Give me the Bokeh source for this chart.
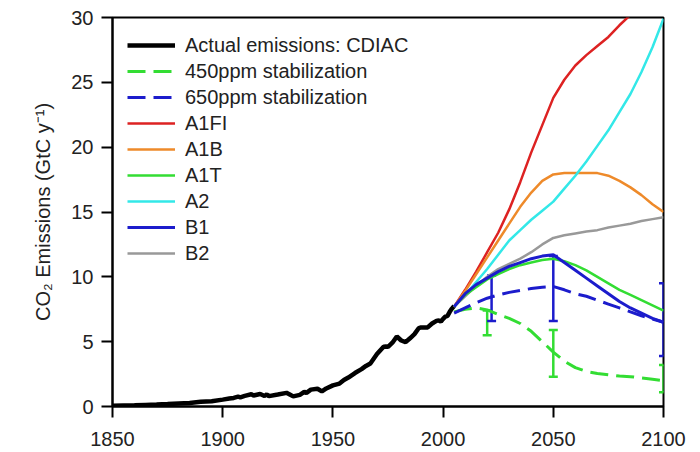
from bokeh.plotting import figure
from bokeh.models import ColumnDataSource, Whisker, TeeHead, Legend, LegendItem, FixedTicker
from bokeh.embed import file_html
from bokeh.resources import INLINE

# ---- Data ----
hist_years = [1850, 1855, 1860, 1865, 1870, 1875, 1880, 1885, 1890, 1895, 1900, 1903, 1905,
              1907, 1908, 1910, 1913, 1914, 1916, 1917, 1919, 1920, 1921, 1925, 1929, 1930,
              1932, 1935, 1937, 1938, 1940, 1943, 1945, 1947, 1950, 1953, 1955, 1957, 1960,
              1963, 1965, 1967, 1970, 1973, 1974, 1975, 1977, 1979, 1981, 1983, 1985, 1987,
              1989, 1990, 1992, 1993, 1995, 1997, 1998, 1999, 2000, 2001, 2002, 2003, 2004, 2005]
hist_values = [0.05, 0.07, 0.09, 0.12, 0.15, 0.19, 0.24, 0.27, 0.36, 0.40, 0.53, 0.61, 0.66,
               0.76, 0.71, 0.82, 0.94, 0.85, 0.93, 0.97, 0.81, 0.93, 0.80, 0.92, 1.05, 0.97,
               0.78, 0.90, 1.13, 1.05, 1.30, 1.37, 1.16, 1.39, 1.63, 1.77, 2.04, 2.23, 2.58,
               2.88, 3.13, 3.32, 4.05, 4.61, 4.62, 4.60, 4.92, 5.40, 5.09, 4.96, 5.26, 5.58,
               6.05, 6.10, 6.10, 6.10, 6.40, 6.60, 6.64, 6.55, 6.76, 6.93, 6.99, 7.30, 7.55, 7.75]

scen_years = [2005, 2010, 2015, 2020, 2025, 2030, 2035, 2040, 2045, 2050,
              2055, 2060, 2065, 2070, 2075, 2080, 2085, 2090, 2095, 2100]
a1fi = [7.7, 9.0, 10.4, 11.9, 13.4, 15.2, 17.3, 19.6, 21.7, 23.8,
        25.2, 26.3, 27.1, 27.8, 28.5, 29.4, 30.2, 31.0, 31.6, 32.2]
a1b = [7.7, 8.9, 10.2, 11.5, 12.8, 14.1, 15.4, 16.5, 17.4, 17.9,
       18.0, 18.0, 18.0, 18.0, 17.8, 17.4, 16.9, 16.3, 15.6, 15.0]
a1t = [7.7, 8.6, 9.2, 9.8, 10.2, 10.6, 10.9, 11.1, 11.3, 11.4,
       11.2, 10.9, 10.5, 10.0, 9.5, 9.0, 8.6, 8.2, 7.8, 7.4]
a2 = [7.7, 8.6, 9.6, 10.6, 11.7, 12.8, 13.6, 14.4, 15.1, 15.8,
      16.8, 17.8, 18.9, 20.1, 21.3, 22.7, 24.1, 25.8, 27.7, 29.9]
b1 = [7.7, 8.7, 9.4, 9.9, 10.4, 10.8, 11.1, 11.4, 11.6, 11.7,
      11.1, 10.5, 9.9, 9.3, 8.7, 8.1, 7.6, 7.2, 6.8, 6.5]
b2 = [7.7, 8.5, 9.3, 10.0, 10.6, 11.0, 11.4, 11.9, 12.5, 13.0,
      13.2, 13.35, 13.5, 13.6, 13.8, 13.95, 14.1, 14.3, 14.45, 14.6]
stab450 = [7.3, 7.5, 7.6, 7.45, 7.1, 6.8, 6.4, 5.8, 5.0, 4.2,
           3.5, 3.0, 2.7, 2.55, 2.45, 2.35, 2.3, 2.2, 2.1, 2.0]
stab650 = [7.2, 7.6, 8.0, 8.35, 8.6, 8.8, 8.95, 9.1, 9.2, 9.25,
           9.0, 8.7, 8.5, 8.2, 7.9, 7.6, 7.3, 7.0, 6.75, 6.5]

err450_years = [2020, 2050, 2100]
err450_upper = [7.4, 5.9, 3.2]
err450_lower = [5.5, 2.3, 1.1]
err650_years = [2022, 2050, 2100]
err650_upper = [10.1, 11.6, 9.5]
err650_lower = [6.6, 6.6, 3.9]

x_ticks = [1850, 1900, 1950, 2000, 2050, 2100]
y_ticks = [0, 5, 10, 15, 20, 25, 30]

# ---- Figure ----
FONT = "Liberation Sans"
TXT = "#222222"

p = figure(width=700, height=452, output_backend="svg", toolbar_location=None,
           x_range=(1850, 2100), y_range=(0, 30),
           min_border_left=112, min_border_right=37, min_border_top=17, min_border_bottom=46)
p.background_fill_color = "white"
p.border_fill_color = "white"
p.outline_line_color = "black"
p.outline_line_width = 2
p.xgrid.visible = False
p.ygrid.visible = False

for ax in (p.xaxis[0], p.yaxis[0]):
    ax.axis_line_width = 2
    ax.axis_line_color = "black"
    ax.major_tick_line_width = 2
    ax.major_tick_line_color = "black"
    ax.major_tick_out = 11
    ax.major_tick_in = 0
    ax.minor_tick_line_color = None
    ax.major_label_text_font = FONT
    ax.major_label_text_font_size = "20px"
    ax.major_label_text_color = TXT
    ax.axis_label_text_font = FONT
    ax.axis_label_text_font_size = "20px"
    ax.axis_label_text_font_style = "normal"
    ax.axis_label_text_color = TXT

p.xaxis.ticker = FixedTicker(ticks=x_ticks)
p.yaxis.ticker = FixedTicker(ticks=y_ticks)
p.xaxis.major_label_standoff = 14
p.yaxis.major_label_standoff = 8
p.yaxis.axis_label = "CO\u2082 Emissions (GtC y\u207b\u00b9)"
p.yaxis.axis_label_standoff = 14

DASH = "18 8"
r_hist = p.line(hist_years, hist_values, line_color="black", line_width=4.5)
r_450 = p.line(scen_years, stab450, line_color="#33dd33", line_width=3, line_dash=DASH)
r_650 = p.line(scen_years, stab650, line_color="#1c1ccc", line_width=3, line_dash=DASH)
r_a1fi = p.line(scen_years, a1fi, line_color="#dd2222", line_width=2.5)
r_a1b = p.line(scen_years, a1b, line_color="#ee8a2a", line_width=2.5)
r_a2 = p.line(scen_years, a2, line_color="#33e8e8", line_width=2.5)
r_b2 = p.line(scen_years, b2, line_color="#999999", line_width=2.5)
r_a1t = p.line(scen_years, a1t, line_color="#33dd33", line_width=2.5)
r_b1 = p.line(scen_years, b1, line_color="#1c1ccc", line_width=3)

src450 = ColumnDataSource(dict(x=err450_years, up=err450_upper, lo=err450_lower))
src650 = ColumnDataSource(dict(x=err650_years, up=err650_upper, lo=err650_lower))
for src, col in ((src450, "#33dd33"), (src650, "#1c1ccc")):
    w = Whisker(source=src, base="x", upper="up", lower="lo", dimension="height",
                line_color=col, line_width=2.5,
                upper_head=TeeHead(size=9, line_color=col, line_width=2.5),
                lower_head=TeeHead(size=9, line_color=col, line_width=2.5))
    p.add_layout(w)

legend = Legend(items=[
    LegendItem(label="Actual emissions: CDIAC", renderers=[r_hist]),
    LegendItem(label="450ppm stabilization", renderers=[r_450]),
    LegendItem(label="650ppm stabilization", renderers=[r_650]),
    LegendItem(label="A1FI", renderers=[r_a1fi]),
    LegendItem(label="A1B", renderers=[r_a1b]),
    LegendItem(label="A1T", renderers=[r_a1t]),
    LegendItem(label="A2", renderers=[r_a2]),
    LegendItem(label="B1", renderers=[r_b1]),
    LegendItem(label="B2", renderers=[r_b2]),
], location="top_left")
legend.margin = 15
legend.padding = 11
legend.spacing = 0
legend.glyph_width = 48
legend.glyph_height = 26
legend.label_height = 26
legend.label_standoff = 10
legend.label_text_font = FONT
legend.label_text_font_size = "20px"
legend.label_text_color = TXT
legend.border_line_color = None
legend.background_fill_alpha = 0
p.add_layout(legend)

open("out.html", "w").write(file_html(p, INLINE))
